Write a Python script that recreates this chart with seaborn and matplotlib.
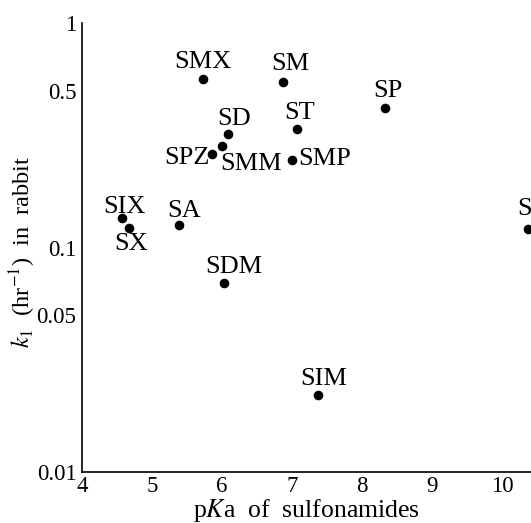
import matplotlib
matplotlib.use("Agg")
import matplotlib.pyplot as plt
import matplotlib.ticker as mticker
import seaborn as sns
import pandas as pd

names = ["SMX", "SD", "SPZ", "SMM", "SIX", "SX", "SA", "SM", "ST", "SMP", "SP", "SDM", "SIM", "SN"]
pka = [5.73, 6.09, 5.86, 6.00, 4.57, 4.67, 5.39, 6.87, 7.07, 7.00, 8.33, 6.03, 7.37, 10.37]
k1 = [0.563, 0.320, 0.261, 0.283, 0.135, 0.122, 0.126, 0.546, 0.337, 0.245, 0.418, 0.0695, 0.022, 0.121]

# label placement (offset in pixels, horizontal alignment)
offsets = {
    "SMX": (0, 17, "center"), "SD": (6, 15.5, "center"), "SPZ": (-3, -4, "right"),
    "SMM": (-2, -17.5, "left"), "SIX": (3, 11.5, "center"), "SX": (2, -16, "center"),
    "SA": (5, 13.5, "center"), "SM": (7, 18, "center"), "ST": (3, 16.5, "center"),
    "SMP": (6, 1, "left"), "SP": (3, 17, "center"), "SDM": (10, 15.5, "center"),
    "SIM": (6, 16, "center"), "SN": (6, 20, "center"),
}

df = pd.DataFrame({"name": names, "pKa": pka, "k1": k1})

sns.set_theme(style="white")
plt.rcParams["font.family"] = ["Liberation Serif", "DejaVu Serif"]
plt.rcParams["mathtext.fontset"] = "stix"

fig = plt.figure(figsize=(5.31, 5.23), dpi=100)
ax = fig.add_axes([82 / 531, 1 - 472 / 523, 1 - 82 / 531, (472 - 23) / 523])

sns.scatterplot(data=df, x="pKa", y="k1", color="black", s=48, edgecolor="black",
                linewidth=0, ax=ax, clip_on=False, zorder=3)

ax.set_yscale("log")
ax.set_xlim(4, 10.41)
ax.set_ylim(0.01, 1)

ax.xaxis.set_major_locator(mticker.FixedLocator([4, 5, 6, 7, 8, 9, 10]))
ax.xaxis.set_major_formatter(mticker.FixedFormatter(["4", "5", "6", "7", "8", "9", "10"]))
ax.yaxis.set_major_locator(mticker.FixedLocator([0.01, 0.05, 0.1, 0.5, 1]))
ax.yaxis.set_major_formatter(mticker.FixedFormatter(["0.01", "0.05", "0.1", "0.5", "1"]))
ax.yaxis.set_minor_locator(mticker.NullLocator())
ax.xaxis.set_minor_locator(mticker.NullLocator())

ax.tick_params(axis="both", direction="in", length=4, width=1, colors="black",
               labelsize=16.5)
ax.tick_params(axis="x", pad=3)
ax.tick_params(axis="y", pad=4)
for side in ["top", "right"]:
    ax.spines[side].set_visible(False)
for side in ["left", "bottom"]:
    ax.spines[side].set_color("black")
    ax.spines[side].set_linewidth(1.2)

for n, x, y in zip(names, pka, k1):
    dx, dy, ha = offsets[n]
    ax.annotate(n, (x, y), xytext=(dx * 0.72, dy * 0.72), textcoords="offset points",
                ha=ha, va="center", fontsize=19, color="black", annotation_clip=False)

ax.set_xlabel(r"p$K$a  of  sulfonamides", fontsize=18.5, labelpad=0, color="black")
ax.set_ylabel(r"$k_1$  (hr$^{-1}$)  in  rabbit", fontsize=17.5, color="black")
ax.yaxis.set_label_coords(-0.098, 0.49)

fig.savefig("out.png", dpi=100, facecolor="white")
